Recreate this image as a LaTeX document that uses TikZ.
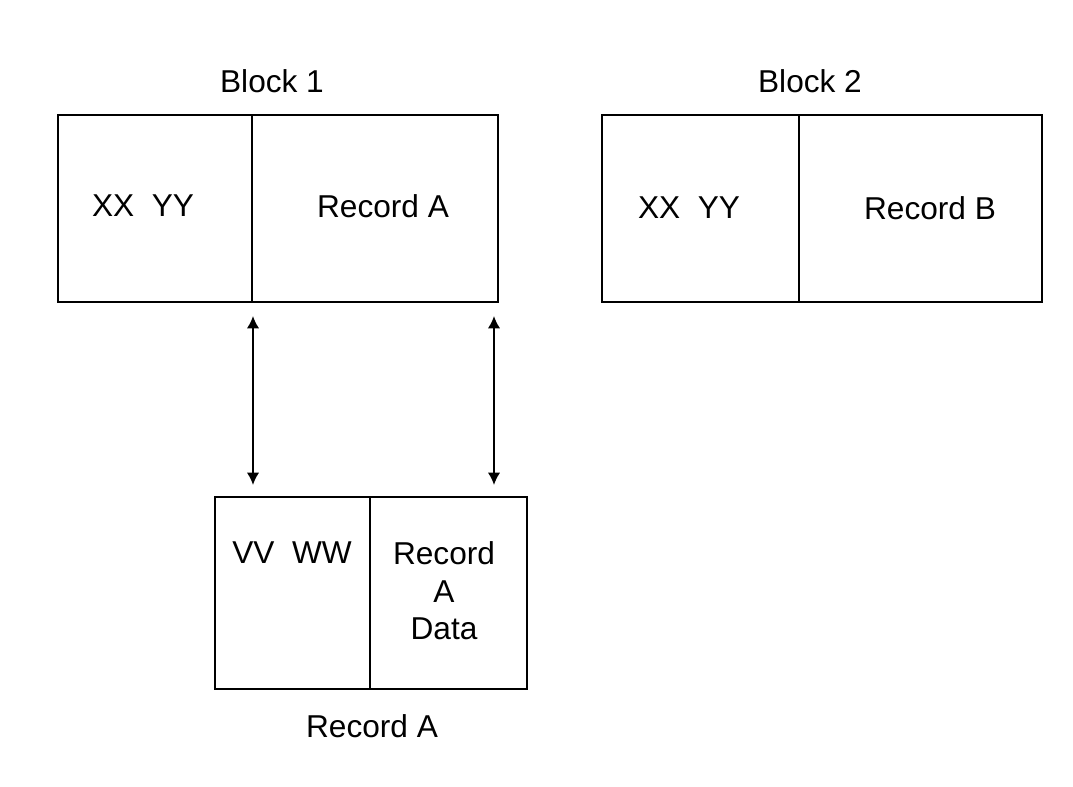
\documentclass[tikz,border=0pt]{standalone}
\usepackage{fontspec}
\setmainfont{Liberation Sans}
\usetikzlibrary{arrows.meta}

\begin{document}
\begin{tikzpicture}[x=0.02cm,y=-0.02cm,
	cell/.style={draw,line width=1pt,inner sep=0pt,anchor=north west},
	txt/.style={font=\fontsize{18}{21.3}\selectfont,inner sep=0pt,align=center},
	link/.style={line width=1pt,{Latex[length=7pt,width=7pt]}-{Latex[length=7pt,width=7pt]}}]
	\useasboundingbox (0,0) rectangle (1073,787);
	% block 1
	\node[cell,minimum width=3.88cm,minimum height=3.74cm] (b1l) at (57,114) {};
	\node[cell,minimum width=4.92cm,minimum height=3.74cm] (b1r) at (251,114) {};
	\node[txt] (b1name) at (272,81) {Block 1};
	\node[txt] (b1key) at (143,206) {XX\ \ YY};
	\node[txt] (b1rec) at (383,206) {Record A};
	% block 2
	\node[cell,minimum width=3.94cm,minimum height=3.74cm] (b2l) at (601,114) {};
	\node[cell,minimum width=4.86cm,minimum height=3.74cm] (b2r) at (798,114) {};
	\node[txt] (b2name) at (810,81) {Block 2};
	\node[txt] (b2key) at (689,208) {XX\ \ YY};
	\node[txt] (b2rec) at (930,208) {Record B};
	% record A
	\node[cell,minimum width=3.10cm,minimum height=3.84cm] (ral) at (214,496) {};
	\node[cell,minimum width=3.14cm,minimum height=3.84cm] (rar) at (369,496) {};
	\node[txt] (raname) at (372,726) {Record A};
	\node[txt] (rakey) at (292,553) {VV\ \ WW};
	\node[txt] (radata) at (444,591) {Record\\A\\Data};
	% links
	\coordinate (l1t) at (253,316);
	\coordinate (l1b) at (253,485);
	\coordinate (l2t) at (494,316);
	\coordinate (l2b) at (494,485);
	\draw[link] (l1t) -- (l1b);
	\draw[link] (l2t) -- (l2b);
\end{tikzpicture}
\end{document}
